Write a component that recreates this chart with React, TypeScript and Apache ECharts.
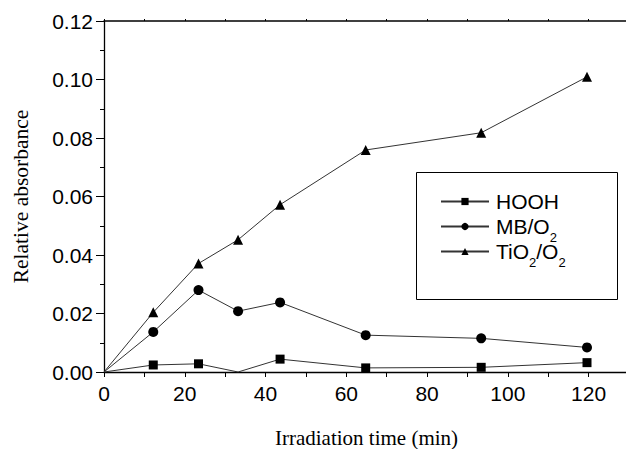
import React, { useEffect, useRef } from "react";
import * as echarts from "echarts";

const times = [0, 12.2, 23.4, 33.2, 43.6, 64.8, 93.4, 119.6];
const hoohValues = [0, 0.0024, 0.0028, 0, 0.0044, 0.0014, 0.0016, 0.0032];
const mbValues = [0, 0.0137, 0.028, 0.0208, 0.0238, 0.0126, 0.0115, 0.0084];
const tioValues = [0, 0.0204, 0.0371, 0.0452, 0.0572, 0.0759, 0.0818, 0.1009];
const seriesNames = ["HOOH", "MB/O2", "TiO2/O2"];
const legendLabels: Record<string, string> = {
  "HOOH": "HOOH{sub| }",
  "MB/O2": "MB/O{sub|2}",
  "TiO2/O2": "TiO{sub|2}/O{sub|2}",
};

// points lying on the x axis are drawn without a marker, as in the source figure
const pair = (vals: number[]) =>
  times.map((t, i) => (vals[i] <= 0 ? { value: [t, vals[i]], symbol: "none" } : [t, vals[i]]));

export default function App() {
  const ref = useRef<HTMLDivElement>(null);
  useEffect(() => {
    if (!ref.current) return;
    const chart = echarts.init(ref.current, null, { renderer: "svg" });
    const sans = "Liberation Sans";
    const serif = "Liberation Serif";
    const lineStyle = { color: "#333", width: 1 };
    const mk = (name: string, vals: number[], symbol: string, size: number) => ({
      name,
      type: "line",
      data: pair(vals),
      symbol,
      symbolSize: size,
      showAllSymbol: true,
      clip: true,
      lineStyle,
      itemStyle: { color: "#000" },
    });
    chart.setOption({
      animation: false,
      backgroundColor: "#fff",
      grid: { left: 104, top: 21, bottom: 77, right: -3, outerBoundsMode: "none", containLabel: false },
      legend: {
        orient: "vertical",
        left: 440,
        top: 184,
        padding: 0,
        itemGap: -10,
        itemWidth: 48,
        itemHeight: 9,
        data: seriesNames,
        formatter: (n: string) => legendLabels[n],
        textStyle: {
          fontFamily: sans,
          fontSize: 21,
          color: "#000",
          lineHeight: 18,
          padding: [0, 0, 0, 2],
          rich: {
            sub: { fontFamily: sans, fontSize: 13, lineHeight: 18, padding: [22, 0, 0, 0], color: "#000" },
          },
        },
      },
      graphic: [
        {
          type: "rect",
          shape: { x: 416.5, y: 172.5, width: 201, height: 127 },
          style: { fill: "none", stroke: "#000", lineWidth: 1 },
          z: 10,
        },
      ],
      xAxis: [
        {
          type: "value",
          min: 0,
          max: 130,
          interval: 10,
          position: "bottom",
          name: "Irradiation time (min)",
          nameLocation: "middle",
          nameGap: 58,
          nameTextStyle: { fontFamily: serif, fontSize: 21, color: "#000", lineHeight: 16 },
          axisLine: { show: true, onZero: false, lineStyle: { color: "#000", width: 1.3 } },
          axisTick: { show: true, inside: false, length: 5, lineStyle: { color: "#000", width: 1 } },
          axisLabel: {
            margin: 11,
            fontFamily: sans,
            fontSize: 21,
            color: "#000",
            formatter: (v: number) => (v % 20 === 0 && v <= 120 ? String(v) : ""),
          },
          splitLine: { show: false },
        },
        {
          type: "value",
          min: 0,
          max: 130,
          interval: 10,
          position: "top",
          axisLine: { show: true, onZero: false, lineStyle: { color: "#000", width: 1.5 } },
          axisTick: { show: true, inside: false, length: 2, lineStyle: { color: "#000", width: 1 } },
          axisLabel: { show: false },
          splitLine: { show: false },
        },
      ],
      yAxis: {
        type: "value",
        min: 0,
        max: 0.12,
        interval: 0.02,
        name: "Relative absorbance",
        nameLocation: "middle",
        nameGap: 72,
        nameTextStyle: { fontFamily: serif, fontSize: 21.5, color: "#000" },
        axisLine: { show: true, onZero: false, lineStyle: { color: "#000", width: 1.3 } },
        axisTick: { show: true, inside: false, length: 8, lineStyle: { color: "#000", width: 1 } },
        minorTick: { show: true, splitNumber: 2, length: 4, lineStyle: { color: "#000", width: 1 } },
        axisLabel: {
          margin: 11,
          fontFamily: sans,
          fontSize: 21,
          color: "#000",
          formatter: (v: number) => v.toFixed(2),
        },
        splitLine: { show: false },
      },
      series: [
        mk("HOOH", hoohValues, "rect", 9),
        mk("MB/O2", mbValues, "circle", 10),
        mk("TiO2/O2", tioValues, "triangle", 10),
      ],
    });
    return () => chart.dispose();
  }, []);
  return <div ref={ref} style={{ width: 626, height: 449, position: "absolute", left: 0, top: 0 }} />;
}
